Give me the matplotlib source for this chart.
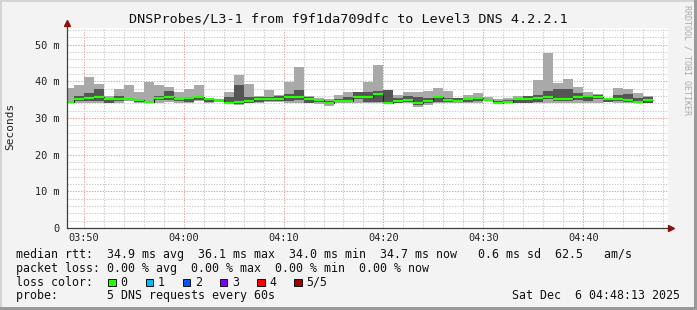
import matplotlib
matplotlib.use("Agg")
import matplotlib.pyplot as plt
from matplotlib.patches import Rectangle

plt.rcParams['font.family'] = ['DejaVu Sans Mono']

# minutes after 03:00; first bin is partial (starts at 03:48:20)
bin_edges = [48 + 1 / 3] + list(range(49, 108))

# five sorted DNS rtt samples per minute (ms)
rtt_max = [38.1, 38.9, 41.1, 39.2, 35.9, 37.8, 38.9, 37.0, 39.7, 38.9,
           38.4, 37.0, 37.8, 38.9, 35.5, 35.1, 37.0, 41.6, 39.2, 35.9,
           37.5, 36.2, 39.7, 43.8, 35.9, 35.4, 35.1, 36.2, 37.0, 37.0,
           39.7, 44.4, 37.5, 36.2, 37.0, 37.0, 37.3, 38.1, 37.3, 35.4,
           36.2, 36.7, 35.6, 35.1, 35.4, 35.9, 35.9, 40.3, 47.6, 39.5,
           40.5, 38.4, 37.0, 36.5, 35.4, 38.1, 37.8, 36.7, 35.9]
rtt_p4 = [34.6, 35.9, 36.7, 37.8, 35.5, 35.9, 35.5, 35.0, 34.6, 35.9,
          37.3, 35.4, 35.7, 35.9, 35.3, 34.9, 35.6, 38.9, 35.6, 35.6,
          35.6, 36.0, 36.5, 37.5, 35.6, 35.1, 34.6, 35.1, 35.6, 37.0,
          37.0, 37.3, 37.5, 35.4, 35.9, 35.6, 35.4, 35.9, 35.4, 35.4,
          35.2, 35.6, 35.2, 34.6, 34.8, 35.1, 35.9, 36.2, 37.3, 37.8,
          37.8, 36.7, 36.2, 36.2, 35.3, 36.2, 36.5, 35.4, 35.6]
rtt_med = [34.3, 35.2, 35.4, 35.7, 35.2, 35.2, 35.2, 34.8, 34.3, 35.5,
           35.7, 35.2, 35.5, 35.6, 35.2, 34.8, 34.2, 34.3, 34.5, 35.2,
           35.2, 35.2, 35.6, 35.7, 35.3, 34.8, 34.2, 34.7, 34.6, 35.7,
           35.7, 36.4, 34.2, 34.5, 34.8, 34.2, 34.5, 35.7, 34.8, 34.5,
           35.2, 35.4, 35.0, 34.2, 34.4, 35.1, 35.1, 35.4, 35.7, 35.2,
           35.2, 35.6, 35.9, 35.7, 35.2, 35.2, 34.9, 34.4, 34.8]
rtt_p2 = [34.2, 34.6, 34.5, 34.6, 34.2, 34.6, 34.8, 34.4, 34.1, 34.8,
          34.8, 34.6, 34.3, 34.8, 34.3, 34.5, 34.0, 33.9, 34.2, 34.3,
          34.6, 34.5, 34.6, 34.8, 34.0, 34.3, 34.0, 34.3, 34.3, 35.1,
          34.3, 34.3, 34.0, 34.2, 34.3, 33.6, 34.0, 34.3, 34.3, 34.3,
          34.3, 34.6, 34.7, 34.0, 34.1, 34.0, 34.2, 34.3, 35.1, 34.5,
          34.6, 34.8, 34.6, 35.1, 34.3, 34.6, 34.3, 34.0, 34.0]
rtt_min = [34.1, 34.0, 34.0, 34.0, 34.0, 34.0, 34.6, 34.0, 34.0, 34.0,
           34.3, 34.0, 34.0, 34.6, 34.0, 34.3, 33.9, 33.4, 34.0, 34.0,
           34.3, 34.3, 34.0, 34.0, 34.0, 33.7, 33.2, 34.0, 34.0, 34.0,
           34.0, 34.2, 34.0, 34.0, 34.0, 33.0, 33.5, 34.0, 34.2, 34.0,
           34.0, 34.0, 34.6, 33.9, 34.0, 34.0, 34.0, 34.0, 34.0, 34.0,
           34.0, 34.0, 34.0, 34.0, 34.3, 34.0, 34.0, 34.0, 34.0]

x_ticks = [50, 60, 70, 80, 90, 100]
x_labels = ['03:50', '04:00', '04:10', '04:20', '04:30', '04:40']
y_ticks = [0, 10, 20, 30, 40, 50]
y_labels = ['0', '10 m', '20 m', '30 m', '40 m', '50 m']

loss_names = ['0', '1', '2', '3', '4', '5/5']
loss_colors = ['#26ff00', '#00b8ff', '#0059ff', '#7e00ff', '#ff0000', '#a10000']

title = 'DNSProbes/L3-1 from f9f1da709dfc to Level3 DNS 4.2.2.1'
legend_rtt = 'median rtt:  34.9 ms avg  36.1 ms max  34.0 ms min  34.7 ms now   0.6 ms sd  62.5   am/s'
legend_loss = 'packet loss: 0.00 % avg  0.00 % max  0.00 % min  0.00 % now'
legend_probe = 'probe:       5 DNS requests every 60s'
stamp = 'Sat Dec  6 04:48:13 2025'

W, H = 697, 310
fig = plt.figure(figsize=(W / 100, H / 100), dpi=100, facecolor='#f3f3f3')

# overlay in pixel coords for frame and legend text
ov = fig.add_axes([0, 0, 1, 1])
ov.set_xlim(0, W)
ov.set_ylim(H, 0)
ov.axis('off')
ov.add_patch(Rectangle((0, 0), W, 2, color='#d4d4d4', lw=0))
ov.add_patch(Rectangle((0, 0), 2, H, color='#d4d4d4', lw=0))
ov.add_patch(Rectangle((W - 3, 0), 3, H, color='#9a9a9a', lw=0))
ov.add_patch(Rectangle((0, H - 3), W, 3, color='#9a9a9a', lw=0))

ax = fig.add_axes([67 / W, 1 - 228 / H, (668 - 67) / W, 200.3 / H])
ax.set_facecolor('white')
ax.set_xlim(bin_edges[0], 108.47)
ax.set_ylim(0, 54.6)
for s in ax.spines.values():
    s.set_visible(False)

ax.set_xticks(x_ticks, x_labels)
ax.set_xticks(range(50, 109, 2), minor=True)
ax.set_yticks(y_ticks, y_labels)
ax.set_yticks(range(0, 55, 2), minor=True)
ax.tick_params(which='both', length=0, labelsize=7.4, labelcolor='#222222')
ax.tick_params(axis='y', pad=5.5)
ax.tick_params(axis='x', pad=3.5)
ax.set_axisbelow(True)
ax.grid(which='minor', color='#cccccc', lw=0.75, ls=(0, (1.3, 1.3)))
ax.grid(which='major', color='#e8a0a0', lw=0.75, ls=(0, (1.3, 1.3)))

# smoke
ax.stairs(rtt_max, bin_edges, baseline=rtt_min, fill=True, color='#a9a9a9', lw=0, zorder=2)
ax.stairs(rtt_p4, bin_edges, baseline=rtt_p2, fill=True, color='#555555', lw=0, zorder=3)
# median
ax.stairs(rtt_med, bin_edges, baseline=None, color='#202020', lw=0.8, zorder=4)
ax.hlines(rtt_med, bin_edges[:-1], bin_edges[1:], color=loss_colors[0], lw=1.55, zorder=5)

# axes with arrows
x0 = bin_edges[0]
ax.plot([x0, x0], [0, 55.6], color='#404040', lw=0.9, clip_on=False, zorder=6)
ax.plot([x0, 108.6], [0, 0], color='#404040', lw=0.9, clip_on=False, zorder=6)
ax.plot([x0], [56.0], marker='^', color='#8b1010', ms=4, clip_on=False, zorder=7)
ax.plot([108.8], [0], marker='>', color='#8b1010', ms=4, clip_on=False, zorder=7)

ov.text(W / 2, 19, title, ha='center', va='center', fontsize=9.7, color='#111111')
ov.text(10, 126.5, 'Seconds', rotation=90, ha='center', va='center', fontsize=8, color='#222222')
ov.text(687, 5, 'RRDTOOL / TOBI OETIKER', rotation=-90, ha='center', va='top',
        fontsize=6, color='#aaaaaa')

ov.text(16, 254.3, legend_rtt, ha='left', va='center', fontsize=8.4, color='#111111')
ov.text(16, 268.3, legend_loss, ha='left', va='center', fontsize=8.4, color='#111111')
ov.text(16, 282.3, 'loss color:', ha='left', va='center', fontsize=8.4, color='#111111')
for i, (name, col) in enumerate(zip(loss_names, loss_colors)):
    bx = 108.3 + 37.2 * i
    ov.add_patch(Rectangle((bx, 278.5), 7.4, 7.4, facecolor=col, edgecolor='#111111', lw=0.7))
    ov.text(bx + 12, 282.3, name, ha='left', va='center', fontsize=8.4, color='#111111')
ov.text(16, 295.7, legend_probe, ha='left', va='center', fontsize=8.4, color='#111111')
ov.text(680, 295.7, stamp, ha='right', va='center', fontsize=8.4, color='#111111')

fig.savefig('out.png', dpi=100, facecolor=fig.get_facecolor())
